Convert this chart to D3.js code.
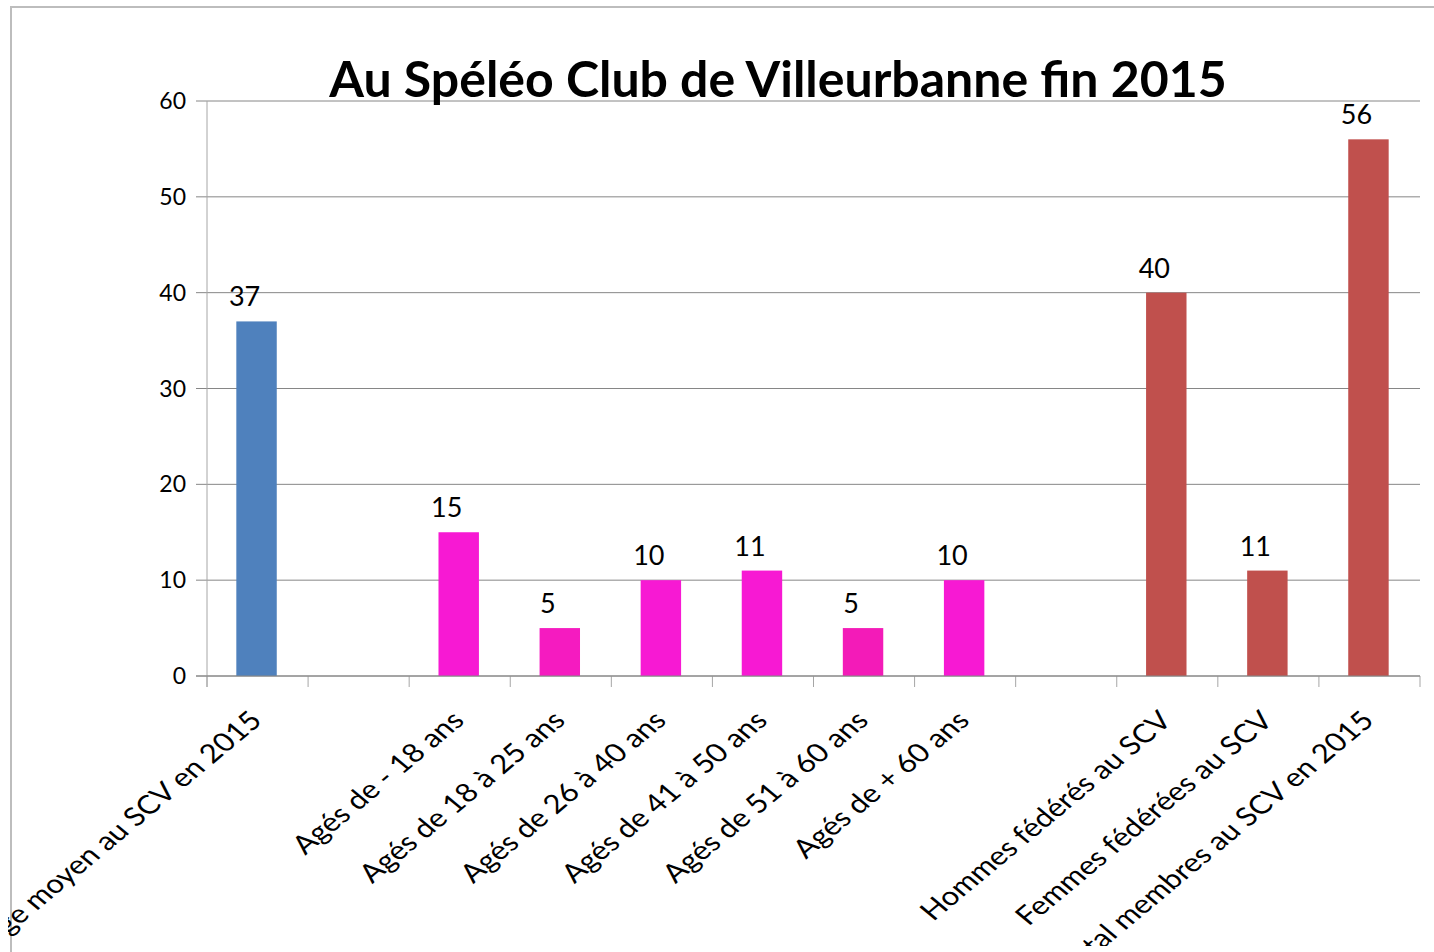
<!DOCTYPE html>
<html>
<head>
<meta charset="utf-8">
<script src="https://cdn.jsdelivr.net/npm/d3@7"></script>
<style>
  body { margin: 0; background: #fff; }
  svg { display: block; font-family: Lato, "Open Sans", sans-serif; }
</style>
</head>
<body>
<svg id="chart" width="1434" height="952"></svg>
<script>
const categories = [
  "Age moyen au SCV en 2015", "", "Agés de - 18 ans", "Agés de 18 à 25 ans",
  "Agés de 26 à 40 ans", "Agés de 41 à 50 ans", "Agés de 51 à 60 ans",
  "Agés de + 60 ans", "", "Hommes fédérés au SCV", "Femmes fédérées au SCV",
  "Total membres au SCV en 2015"
];
const values = [37, null, 15, 5, 10, 11, 5, 10, null, 40, 11, 56];
const barColors = ["#4f81bd", null, "#f719d3", "#f51bc0", "#f719d3", "#f719d3", "#f31bb8", "#f719d3", null, "#c0504d", "#c0504d", "#c0504d"];
const yTicks = [0, 10, 20, 30, 40, 50, 60];
const title = "Au Spéléo Club de Villeurbanne fin 2015";

const svg = d3.select("#chart");
const margin = { top: 101, left: 207, right: 14, bottom: 276 };
const W = 1434, H = 952;

svg.append("defs").append("clipPath").attr("id", "clip")
  .append("rect").attr("x", 8).attr("y", 0).attr("width", W).attr("height", 946);

// outer frame
svg.append("rect")
  .attr("x", 11).attr("y", 7).attr("width", 1500).attr("height", 1000)
  .attr("fill", "none").attr("stroke", "#bdbdbd").attr("stroke-width", 2);

const x = d3.scaleBand()
  .domain(d3.range(categories.length))
  .range([margin.left, W - margin.right])
  .paddingInner(0.6).paddingOuter(0.3);

const y = d3.scaleLinear().domain([0, 60]).range([H - margin.bottom, margin.top]);

const g = svg.append("g");

// gridlines + y ticks
g.selectAll(".grid").data(yTicks).join("line")
  .attr("x1", margin.left - 11).attr("x2", W - margin.right)
  .attr("y1", d => y(d)).attr("y2", d => y(d))
  .attr("stroke", "#868686").attr("stroke-width", 1);

g.selectAll(".ytxt").data(yTicks).join("text")
  .attr("x", margin.left - 21).attr("y", d => y(d))
  .attr("dy", "0.35em").attr("text-anchor", "end")
  .attr("font-size", 23).attr("fill", "#000").text(d => d);

// y axis line
g.append("line")
  .attr("x1", margin.left).attr("x2", margin.left)
  .attr("y1", y(60)).attr("y2", y(0) + 11)
  .attr("stroke", "#a6a6a6").attr("stroke-width", 1);

// x tick marks at band boundaries
const step = x.step();
const bounds = d3.range(categories.length + 1).map(i => margin.left + i * step);
g.selectAll(".xtick").data(bounds).join("line")
  .attr("x1", d => d).attr("x2", d => d)
  .attr("y1", y(0)).attr("y2", y(0) + 11)
  .attr("stroke", "#a6a6a6").attr("stroke-width", 1);

// bars
const barData = values.map((v, i) => ({ v, i })).filter(d => d.v != null);
g.selectAll(".bar").data(barData).join("rect")
  .attr("x", d => x(d.i) - 1).attr("width", x.bandwidth())
  .attr("y", d => y(d.v)).attr("height", d => y(0) - y(d.v))
  .attr("fill", d => barColors[d.i]);

// x axis line above bars
g.append("line")
  .attr("x1", margin.left - 11).attr("x2", W - margin.right)
  .attr("y1", y(0)).attr("y2", y(0))
  .attr("stroke", "#868686").attr("stroke-width", 1);

// value labels
g.selectAll(".val").data(barData).join("text")
  .attr("x", d => x(d.i) + x.bandwidth() / 2 - 13).attr("y", d => y(d.v) - 15)
  .attr("text-anchor", "middle").attr("font-size", 27).attr("fill", "#000")
  .text(d => d.v);

// category labels (rotated, slightly stretched horizontally like the source)
const lab = svg.append("g").attr("clip-path", "url(#clip)");
lab.selectAll(".cat").data(categories.map((c, i) => ({ c, i }))).join("text")
  .attr("transform", d => `translate(${x(d.i) + x.bandwidth() / 2 + 6},${y(0) + 46}) scale(1.2,1) rotate(-45)`)
  .attr("text-anchor", "end")
  .attr("font-size", 26).attr("fill", "#000")
  .text(d => d.c);

// title
svg.append("text")
  .attr("x", 778).attr("y", 97)
  .attr("text-anchor", "middle").attr("font-size", 50).attr("font-weight", "bold")
  .attr("fill", "#000").text(title);
</script>
</body>
</html>
